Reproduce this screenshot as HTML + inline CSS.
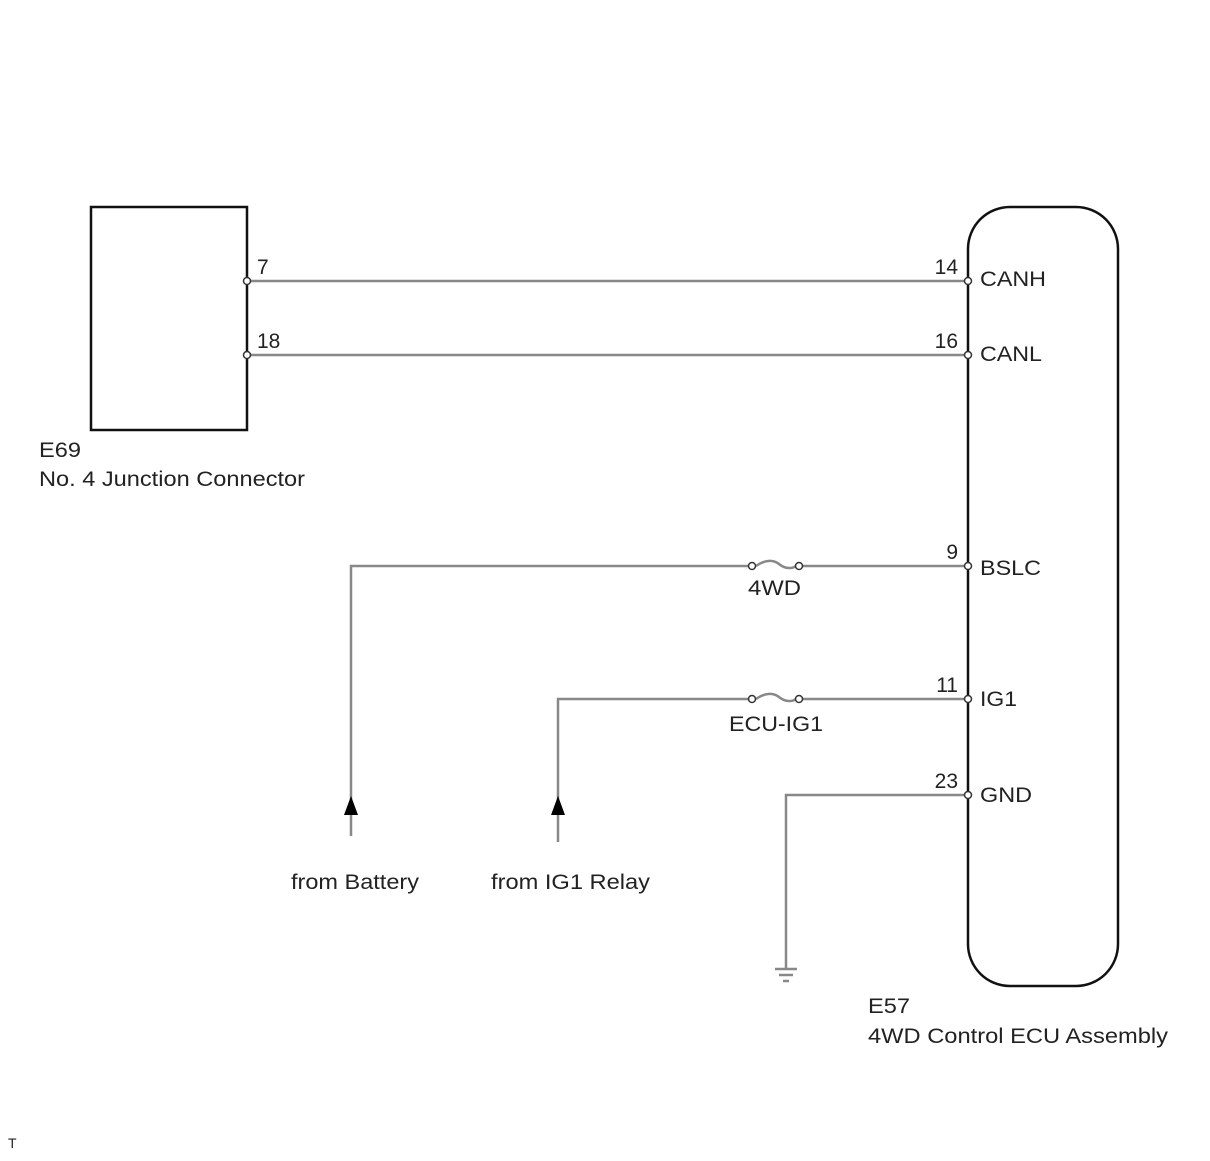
<!DOCTYPE html>
<html><head><style>body{margin:0;background:#fff}</style></head><body>
<svg width="1210" height="1156" viewBox="0 0 1210 1156" xmlns="http://www.w3.org/2000/svg" font-family="Liberation Sans, sans-serif" font-size="21" fill="#222">
<rect x="91" y="207" width="156" height="223" fill="none" stroke="#111" stroke-width="2.5"/>
<rect x="968" y="207" width="150" height="779" rx="42" fill="none" stroke="#111" stroke-width="2.5"/>
<g stroke="#888" stroke-width="2.5" fill="none">
<line x1="247" y1="281" x2="968" y2="281"/>
<line x1="247" y1="355" x2="968" y2="355"/>
<polyline points="351,836 351,566 752,566"/>
<line x1="799" y1="566" x2="968" y2="566"/>
<polyline points="558,842 558,699 752,699"/>
<line x1="799" y1="699" x2="968" y2="699"/>
<polyline points="968,795 786,795 786,968"/>
<path d="M756,566 C766,559 774,560 779,564 C785,569 792,569 796,566"/>
<path d="M756,699 C766,692 774,693 779,697 C785,702 792,702 796,699"/>
<line x1="775" y1="969" x2="797" y2="969"/>
<line x1="779" y1="975" x2="793" y2="975"/>
<line x1="783" y1="981" x2="789" y2="981"/>
</g>
<g fill="#fff" stroke="#333" stroke-width="1.5">
<circle cx="247" cy="281" r="3.5"/><circle cx="247" cy="355" r="3.5"/>
<circle cx="968" cy="281" r="3.5"/><circle cx="968" cy="355" r="3.5"/>
<circle cx="968" cy="566" r="3.5"/><circle cx="968" cy="699" r="3.5"/><circle cx="968" cy="795" r="3.5"/>
<circle cx="752" cy="566" r="3.5"/><circle cx="799" cy="566" r="3.5"/>
<circle cx="752" cy="699" r="3.5"/><circle cx="799" cy="699" r="3.5"/>
</g>
<polygon points="351,796 344,815 358,815" fill="#000"/>
<polygon points="558,796 551,815 565,815" fill="#000"/>
<text x="257" y="274">7</text><text x="257" y="348">18</text>
<text x="958" y="274" text-anchor="end">14</text><text x="958" y="348" text-anchor="end">16</text>
<text x="958" y="559" text-anchor="end">9</text><text x="958" y="692" text-anchor="end">11</text>
<text x="958" y="788" text-anchor="end">23</text>
<text x="980" y="286" textLength="66" lengthAdjust="spacingAndGlyphs">CANH</text>
<text x="980" y="361" textLength="62" lengthAdjust="spacingAndGlyphs">CANL</text>
<text x="980" y="575" textLength="61" lengthAdjust="spacingAndGlyphs">BSLC</text>
<text x="980" y="706" textLength="37" lengthAdjust="spacingAndGlyphs">IG1</text>
<text x="980" y="802" textLength="52" lengthAdjust="spacingAndGlyphs">GND</text>
<text x="748" y="595" textLength="53" lengthAdjust="spacingAndGlyphs">4WD</text>
<text x="729" y="731" textLength="94" lengthAdjust="spacingAndGlyphs">ECU-IG1</text>
<text x="39" y="457" textLength="42" lengthAdjust="spacingAndGlyphs">E69</text>
<text x="39" y="486" textLength="266" lengthAdjust="spacingAndGlyphs">No. 4 Junction Connector</text>
<text x="291" y="889" textLength="128" lengthAdjust="spacingAndGlyphs">from Battery</text>
<text x="491" y="889" textLength="159" lengthAdjust="spacingAndGlyphs">from IG1 Relay</text>
<text x="868" y="1013" textLength="42" lengthAdjust="spacingAndGlyphs">E57</text>
<text x="868" y="1043" textLength="300" lengthAdjust="spacingAndGlyphs">4WD Control ECU Assembly</text>
<text x="8" y="1148" font-size="14">T</text>
</svg>
</body></html>
